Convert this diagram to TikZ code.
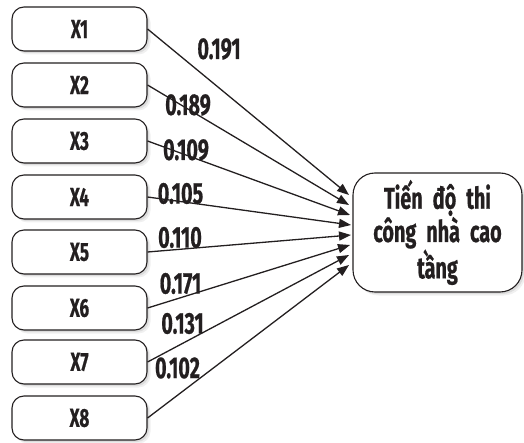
\documentclass[tikz,border=0pt]{standalone}
\usepackage{fontspec}
\newfontfamily\condbold[FakeStretch=0.66,FakeBold=0.6,WordSpace=0.75]{Fira Sans Bold}
\usetikzlibrary{shadows,arrows.meta}
\definecolor{ink}{HTML}{231F20}
\begin{document}
\begin{tikzpicture}[x=1pt,y=-1pt,
  softshadow/.style={
    drop shadow={opacity=0.12,shadow xshift=3.5pt,shadow yshift=-3.5pt},
    drop shadow={opacity=0.18,shadow xshift=2pt,shadow yshift=-2pt}},
  xbox/.style={draw=ink,line width=1.1pt,rounded corners=12pt,fill=white,
    minimum width=135pt,minimum height=44pt,inner sep=0pt,
    font=\condbold\fontsize{26}{28}\selectfont,text=ink,softshadow},
  tbox/.style={draw=ink,line width=1.1pt,rounded corners=22pt,fill=white,
    minimum width=169pt,minimum height=119pt,inner sep=0pt,text width=165pt,align=center,
    font=\condbold\fontsize{30}{31}\selectfont,text=ink,softshadow},
  wlab/.style={font=\condbold\fontsize{30}{32}\selectfont,text=ink,inner sep=0pt},
  conn/.style={draw=ink,line width=1.3pt,-{Triangle[length=12pt,width=9pt]}}]
\useasboundingbox (0,0) rectangle (524,443);
\node[xbox] (x1) at (79.5,29) {X1};
\node[xbox] (x2) at (79.5,85) {X2};
\node[xbox] (x3) at (79.5,141) {X3};
\node[xbox] (x4) at (79.5,197) {X4};
\node[xbox] (x5) at (79.5,252) {X5};
\node[xbox] (x6) at (79.5,308) {X6};
\node[xbox] (x7) at (79.5,362) {X7};
\node[xbox] (x8) at (79.5,418) {X8};
\node[tbox] (y) at (437.5,232.5) {Tiến độ thi\\công nhà cao\\tầng};
\coordinate (t1) at (349,195);
\coordinate (t2) at (349,205);
\coordinate (t3) at (350,215);
\coordinate (t4) at (351,225);
\coordinate (t5) at (351,235);
\coordinate (t6) at (350,245);
\coordinate (t7) at (349,255);
\coordinate (t8) at (349,265);
\draw[conn] (x1.east) -- (t1);
\draw[conn] (x2.east) -- (t2);
\draw[conn] (x3.east) -- (t3);
\draw[conn] (x4.east) -- (t4);
\draw[conn] (x5.east) -- (t5);
\draw[conn] (x6.east) -- (t6);
\draw[conn] (x7.east) -- (t7);
\draw[conn] (x8.east) -- (t8);
\node[wlab] (l1) at (219,49) {0.191};
\node[wlab] (l2) at (188,105) {0.189};
\node[wlab] (l3) at (186,150) {0.109};
\node[wlab] (l4) at (180.5,193.5) {0.105};
\node[wlab] (l5) at (180,237.5) {0.110};
\node[wlab] (l6) at (180.5,283.5) {0.171};
\node[wlab] (l7) at (182.5,323.5) {0.131};
\node[wlab] (l8) at (177.5,368) {0.102};
\end{tikzpicture}
\end{document}
